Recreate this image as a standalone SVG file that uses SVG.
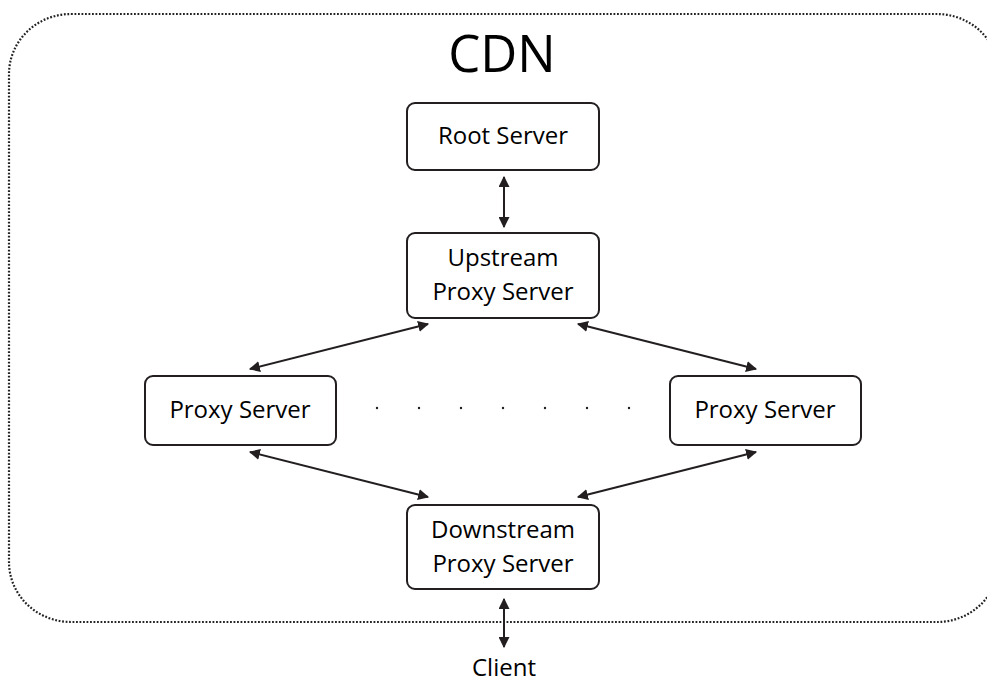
<svg xmlns="http://www.w3.org/2000/svg" width="987" height="682" viewBox="0 0 987 682">
<style>
.box{fill:#fff;stroke:#231f20;stroke-width:2}
.t{font-family:"Open Sans","Liberation Sans",sans-serif;font-size:24px;fill:#000;text-anchor:middle}
.c{stroke:#231f20;stroke-width:2;fill:none;marker-start:url(#ah);marker-end:url(#ah)}
.dot{fill:#231f20}
</style>
<defs>
<marker id="ah" viewBox="0 0 10 10" refX="9" refY="5" markerWidth="5.5" markerHeight="5.5" orient="auto-start-reverse" markerUnits="strokeWidth">
<path d="M0,0 L10,5 L0,10 Z" fill="#231f20"/>
</marker>
</defs>
<rect x="9" y="14" width="990" height="608" rx="62" ry="60" fill="none" stroke="#222" stroke-width="2.2" stroke-dasharray="1.8 1.7"/>
<text x="502" y="72" style="font-family:'Open Sans','Liberation Sans',sans-serif;font-size:51px;fill:#000;text-anchor:middle">CDN</text>
<g id="connectors">
<line class="c" x1="504" y1="177" x2="504" y2="227"/>
<line class="c" x1="428" y1="324" x2="250" y2="369"/>
<line class="c" x1="578" y1="324" x2="756" y2="369"/>
<line class="c" x1="250" y1="452" x2="428" y2="497"/>
<line class="c" x1="756" y1="452" x2="578" y2="497"/>
<line class="c" x1="504" y1="599" x2="504" y2="647"/>
</g>
<g id="ellipsis">
<circle class="dot" cx="377" cy="408" r="1.2"/>
<circle class="dot" cx="419" cy="408" r="1.2"/>
<circle class="dot" cx="461" cy="408" r="1.2"/>
<circle class="dot" cx="503" cy="408" r="1.2"/>
<circle class="dot" cx="545" cy="408" r="1.2"/>
<circle class="dot" cx="587" cy="408" r="1.2"/>
<circle class="dot" cx="629" cy="408" r="1.2"/>
</g>
<g id="root">
<rect class="box" x="407" y="103" width="192" height="67" rx="8"/>
<text class="t" x="503" y="144">Root Server</text>
</g>
<g id="upstream">
<rect class="box" x="407" y="233" width="192" height="85" rx="8"/>
<text class="t" x="503" y="266">Upstream</text>
<text class="t" x="503" y="300">Proxy Server</text>
</g>
<g id="proxyLeft">
<rect class="box" x="145" y="376" width="191" height="69" rx="8"/>
<text class="t" x="240" y="418">Proxy Server</text>
</g>
<g id="proxyRight">
<rect class="box" x="670" y="376" width="191" height="69" rx="8"/>
<text class="t" x="765" y="418">Proxy Server</text>
</g>
<g id="downstream">
<rect class="box" x="407" y="505" width="192" height="84" rx="8"/>
<text class="t" x="503" y="538">Downstream</text>
<text class="t" x="503" y="572">Proxy Server</text>
</g>
<g id="client">
<text class="t" x="504" y="676">Client</text>
</g>
</svg>
